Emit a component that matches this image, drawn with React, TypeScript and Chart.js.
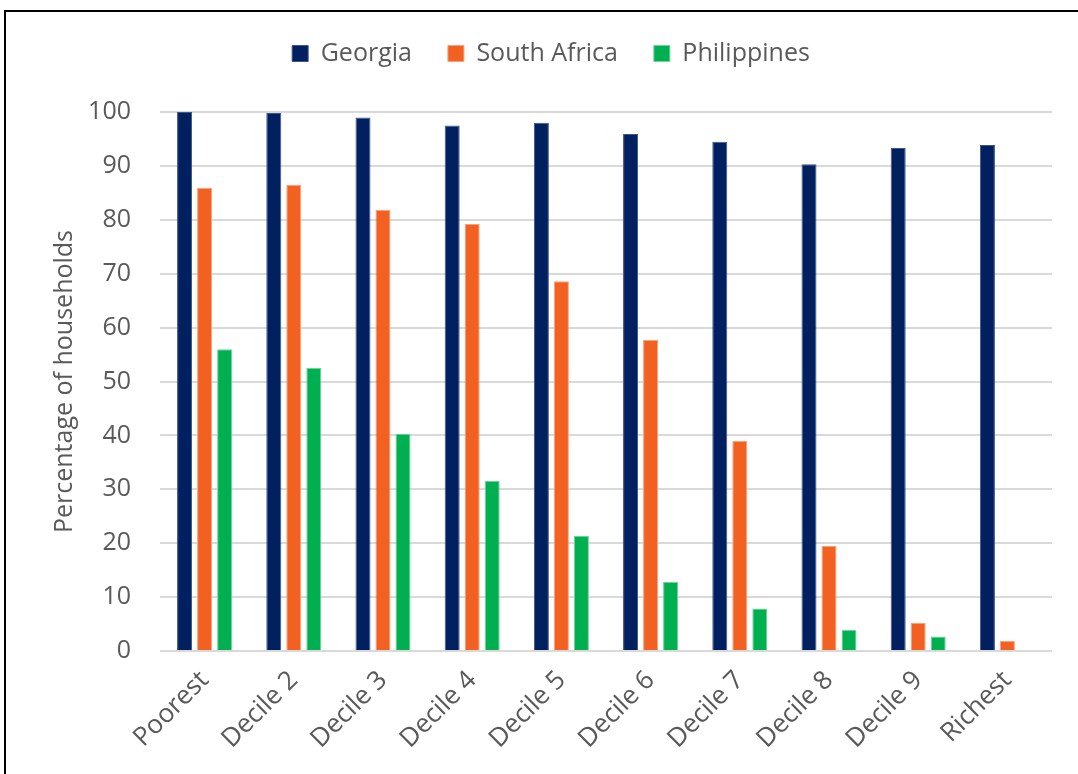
import React, { useEffect, useRef } from "react";
import { Chart, registerables } from "chart.js";

Chart.register(...registerables);

const categories = [
  "Poorest",
  "Decile 2",
  "Decile 3",
  "Decile 4",
  "Decile 5",
  "Decile 6",
  "Decile 7",
  "Decile 8",
  "Decile 9",
  "Richest",
];

const georgia = [100, 99.8, 99.0, 97.5, 98.0, 95.9, 94.5, 90.3, 93.3, 93.9];
const southAfrica = [85.9, 86.5, 81.8, 79.2, 68.6, 57.7, 39.0, 19.5, 5.2, 1.9];
const philippines = [56.0, 52.5, 40.3, 31.6, 21.4, 12.8, 7.9, 3.9, 2.7, 0.2];

const yTicks = [0, 10, 20, 30, 40, 50, 60, 70, 80, 90, 100];

const FONT = "'Open Sans', 'Noto Sans', sans-serif";
const TEXT = "#595959";

// Adds extra room between the legend row and the plot area.
const legendGap = {
  id: "legendGap",
  beforeInit(chart: any) {
    const legend = chart.legend;
    if (!legend) return;
    const fit = legend.fit;
    legend.fit = function () {
      fit.call(legend);
      legend.height += 36;
    };
  },
};

export default function App() {
  const canvasRef = useRef<HTMLCanvasElement | null>(null);

  useEffect(() => {
    const canvas = canvasRef.current;
    if (!canvas) return;
    const chart = new Chart(canvas, {
      type: "bar",
      data: {
        labels: categories,
        datasets: [
          {
            label: "Georgia",
            data: georgia,
            backgroundColor: "#002060",
            borderColor: "#3d5488",
            borderWidth: 1,
          },
          {
            label: "South Africa",
            data: southAfrica,
            backgroundColor: "#F26122",
            borderColor: "#f7a27c",
            borderWidth: 1,
          },
          {
            label: "Philippines",
            data: philippines,
            backgroundColor: "#00B050",
            borderColor: "#6fd39a",
            borderWidth: 1,
          },
        ],
      },
      plugins: [legendGap],
      options: {
        responsive: false,
        animation: false,
        devicePixelRatio: 1,
        layout: { padding: { left: 50, right: 26, top: 5, bottom: 0 } },
        datasets: {
          bar: { categoryPercentage: 0.673, barPercentage: 0.75 },
        },
        plugins: {
          tooltip: { enabled: false },
          legend: {
            position: "top",
            align: "center",
            labels: {
              font: { family: FONT, size: 25 },
              color: TEXT,
              boxWidth: 16,
              boxHeight: 16,
              padding: 36,
            },
          },
        },
        scales: {
          x: {
            grid: { display: false },
            border: { display: false },
            ticks: {
              font: { family: FONT, size: 26 },
              color: TEXT,
              minRotation: 45,
              maxRotation: 45,
              padding: 6,
            },
            afterFit: (scale: any) => {
              scale.height = 123;
            },
          },
          y: {
            min: 0,
            max: 100,
            border: { display: false },
            grid: { color: "#d9d9d9", lineWidth: 2, drawTicks: false },
            afterBuildTicks: (scale: any) => {
              scale.ticks = yTicks.map((v) => ({ value: v }));
            },
            ticks: {
              font: { family: FONT, size: 25 },
              color: TEXT,
              padding: 29,
            },
            title: {
              display: true,
              text: "Percentage of households",
              font: { family: FONT, size: 25 },
              color: TEXT,
              padding: { top: 0, bottom: 0 },
            },
            afterFit: (scale: any) => {
              scale.width = 110;
            },
          },
        },
      },
    });
    return () => chart.destroy();
  }, []);

  return (
    <div
      style={{
        position: "fixed",
        left: 0,
        top: 0,
        width: 1078,
        height: 774,
        overflow: "hidden",
        background: "#ffffff",
      }}
    >
      <div
        style={{
          position: "absolute",
          left: 4,
          top: 10,
          width: 1120,
          height: 820,
          border: "2px solid #000000",
          boxSizing: "border-box",
        }}
      />
      <canvas
        ref={canvasRef}
        width={1078}
        height={774}
        style={{ position: "absolute", left: 0, top: 0, width: 1078, height: 774 }}
      />
    </div>
  );
}
